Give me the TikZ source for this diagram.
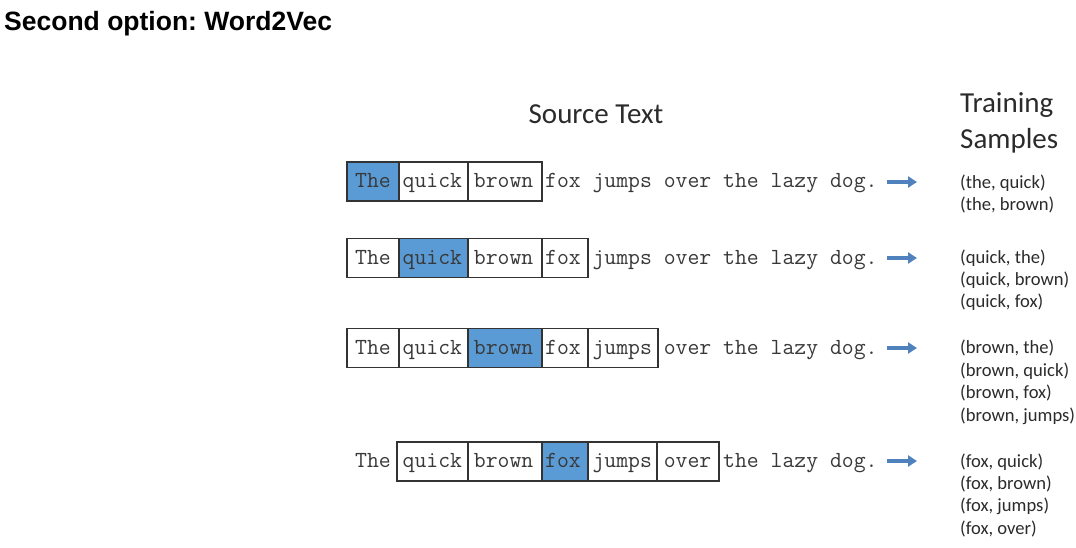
\documentclass[tikz,border=0pt]{standalone}
\usepackage{fontspec}
\setmainfont{Carlito}
\newfontfamily\titlefont{Liberation Sans}
\usetikzlibrary{arrows.meta}
\definecolor{wblue}{HTML}{5B9BD5}
\definecolor{arrowblue}{HTML}{4F81BD}
\definecolor{boxline}{HTML}{333333}
\definecolor{monotext}{HTML}{383838}
\definecolor{labeltext}{HTML}{2B2B2B}
\frenchspacing
\begin{document}
\begin{tikzpicture}[x=1pt,y=-1pt,
  wordbox/.style={draw=boxline, line width=1.4pt, fill=white, inner sep=0pt, minimum height=39pt},
  hotbox/.style={wordbox, fill=wblue},
  sentence/.style={anchor=base west, inner sep=0pt, font=\ttfamily\fontsize{23.05}{24}\selectfont, text=monotext},
  header/.style={anchor=base west, inner sep=0pt, font=\fontsize{29}{36}\selectfont, text=labeltext},
  sample/.style={anchor=base west, inner sep=0pt, font=\fontsize{18.6}{22}\selectfont, text=labeltext},
  conn/.style={draw=arrowblue, line width=4pt, -{Triangle[length=9pt,width=11pt]}}
]
\useasboundingbox (0,0) rectangle (1076,547);
% title
\node[anchor=base west, inner sep=0pt, font=\titlefont\bfseries\fontsize{26.5}{30}\selectfont] (title) at (4,30) {Second option: Word2Vec};
% headers
\node[header, anchor=base] (src) at (596,123) {Source Text};
\node[header] (tr1) at (960,112) {Training};
\node[header] (tr2) at (960,148) {Samples};

% row 1
\node[hotbox,  minimum width=52pt] (r1a) at (373,181.5) {};
\node[wordbox, minimum width=69pt] (r1b) at (433.5,181.5) {};
\node[wordbox, minimum width=74pt] (r1c) at (505,181.5) {};
\node[sentence] (s1) at (355,187.5) {The quick brown fox jumps over the lazy dog.};
% row 2
\node[wordbox, minimum width=52pt] (r2a) at (373,258) {};
\node[hotbox,  minimum width=69pt] (r2b) at (433.5,258) {};
\node[wordbox, minimum width=74pt] (r2c) at (505,258) {};
\node[wordbox, minimum width=46pt] (r2d) at (565,258) {};
\node[sentence] (s2) at (355,264) {The quick brown fox jumps over the lazy dog.};
% row 3
\node[wordbox, minimum width=52pt] (r3a) at (373,348) {};
\node[wordbox, minimum width=69pt] (r3b) at (433.5,348) {};
\node[hotbox,  minimum width=74pt] (r3c) at (505,348) {};
\node[wordbox, minimum width=46pt] (r3d) at (565,348) {};
\node[wordbox, minimum width=70pt] (r3e) at (623,348) {};
\node[sentence] (s3) at (355,354) {The quick brown fox jumps over the lazy dog.};
% row 4
\node[wordbox, minimum width=71pt] (r4b) at (432.5,461.5) {};
\node[wordbox, minimum width=74pt] (r4c) at (505,461.5) {};
\node[hotbox,  minimum width=46pt] (r4d) at (565,461.5) {};
\node[wordbox, minimum width=69pt] (r4e) at (622.5,461.5) {};
\node[wordbox, minimum width=62pt] (r4f) at (688,461.5) {};
\node[sentence] (s4) at (355,467.5) {The quick brown fox jumps over the lazy dog.};

% arrows
\coordinate (a1s) at (887,182);   \coordinate (a1e) at (917,182);
\coordinate (a2s) at (887,258);   \coordinate (a2e) at (917,258);
\coordinate (a3s) at (887,348);   \coordinate (a3e) at (917,348);
\coordinate (a4s) at (887,461);   \coordinate (a4e) at (917,461);
\draw[conn] (a1s) -- (a1e);
\draw[conn] (a2s) -- (a2e);
\draw[conn] (a3s) -- (a3e);
\draw[conn] (a4s) -- (a4e);

% samples
\node[sample] (p11) at (960,188) {(the, quick)};
\node[sample] (p12) at (960,210) {(the, brown)};
\node[sample] (p21) at (960,263.5) {(quick, the)};
\node[sample] (p22) at (960,285.5) {(quick, brown)};
\node[sample] (p23) at (960,307.5) {(quick, fox)};
\node[sample] (p31) at (960,353.5) {(brown, the)};
\node[sample] (p32) at (960,376) {(brown, quick)};
\node[sample] (p33) at (960,398.5) {(brown, fox)};
\node[sample] (p34) at (960,421) {(brown, jumps)};
\node[sample] (p41) at (960,467) {(fox, quick)};
\node[sample] (p42) at (960,489.5) {(fox, brown)};
\node[sample] (p43) at (960,511.5) {(fox, jumps)};
\node[sample] (p44) at (960,534) {(fox, over)};
\end{tikzpicture}
\end{document}
